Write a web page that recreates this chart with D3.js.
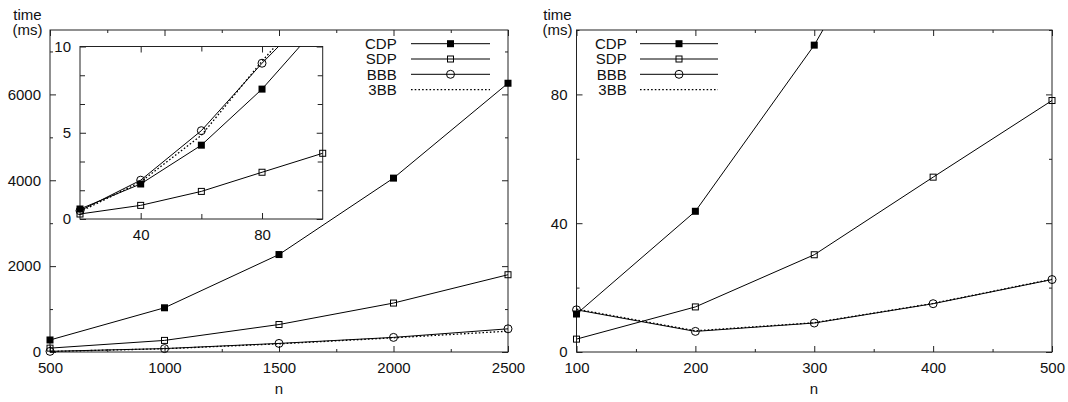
<!DOCTYPE html>
<html>
<head>
<meta charset="utf-8">
<script src="https://cdn.jsdelivr.net/npm/d3@7"></script>
<style>
  body { margin: 0; background: #fff; }
  svg { display: block; }
  .tick line { stroke: #222; }
  text { font-family: "Liberation Sans", Arial, sans-serif; fill: #111; }
</style>
</head>
<body>
<svg id="chart" width="1068" height="402"></svg>
<script>
// series names (legend order)
const seriesNames = ["CDP", "SDP", "BBB", "3BB"];

// left plot: n = 500 .. 2500, time in ms
const leftN = [500, 1000, 1500, 2000, 2500];
const leftCDP = [280, 1030, 2270, 4050, 6260];
const leftSDP = [90, 270, 640, 1140, 1800];
const leftBBB = [15, 80, 200, 340, 540];
const left3BB = [12, 75, 190, 330, 485];

// inset of the left plot: n = 20 .. 100
const insetN = [20, 40, 60, 80, 100];
const insetCDP = [0.58, 2.03, 4.28, 7.53, 11.5];
const insetSDP = [0.29, 0.79, 1.6, 2.71, 3.81];
const insetBBB = [0.48, 2.25, 5.12, 9.03, 12.6];
const inset3BB = [0.42, 2.15, 4.85, 9.15, 13.1];

// right plot: n = 100 .. 500
const rightN = [100, 200, 300, 400, 500];
const rightCDP = [11.8, 43.7, 95.3, 160, 250];
const rightSDP = [4.0, 14.0, 30.2, 54.3, 78.1];
const rightBBB = [13.1, 6.4, 9.0, 15.0, 22.5];
const right3BB = [13.3, 6.6, 9.1, 15.1, 22.6];

// tick values
const leftXTicks = [500, 1000, 1500, 2000, 2500];
const leftXMinor = [750, 1250, 1750, 2250];
const leftYTicks = [0, 2000, 4000, 6000];
const leftYMinor = [1000, 3000, 5000, 7000];
const insetXTicks = [40, 80];
const insetXMinor = [60];
const insetYTicks = [0, 5, 10];
const insetYMinor = [5 / 3, 10 / 3, 20 / 3, 25 / 3];
const rightXTicks = [100, 200, 300, 400, 500];
const rightXMinor = [150, 250, 350, 450];
const rightYTicks = [0, 40, 80];
const rightYMinor = [20, 60, 100];

const svg = d3.select("#chart");
const fontSize = 15;
const dotted = "1.6,2.1";

const markerStyle = {
    CDP: "filledSquare",
    SDP: "openSquare",
    BBB: "circle",
    "3BB": null
};

function drawMarker(g, type, cx, cy) {
    if (type === "filledSquare") {
        g.append("rect").attr("x", cx - 3.5).attr("y", cy - 3.5)
            .attr("width", 7).attr("height", 7).attr("fill", "#000");
    } else if (type === "openSquare") {
        g.append("rect").attr("x", cx - 3).attr("y", cy - 3)
            .attr("width", 6).attr("height", 6)
            .attr("fill", "none").attr("stroke", "#000").attr("stroke-width", 1);
    } else if (type === "circle") {
        g.append("circle").attr("cx", cx).attr("cy", cy).attr("r", 4)
            .attr("fill", "none").attr("stroke", "#000").attr("stroke-width", 1);
    }
}

function styleAxis(g) {
    g.select(".domain").remove();
    g.attr("font-family", null).attr("font-size", null);
    g.selectAll("text").style("font-size", fontSize + "px");
}

// draws a framed panel with ticks on all sides
function drawPanel(opts) {
    const x = opts.x, y = opts.y;
    const [x0, x1] = x.range();
    const [y0, y1] = y.range();
    const g = svg.append("g");
    const fmt = d3.format("d");

    g.append("rect")
        .attr("x", x0).attr("y", y1)
        .attr("width", x1 - x0).attr("height", y0 - y1)
        .attr("fill", "#fff").attr("stroke", "#222").attr("stroke-width", 1);

    const major = opts.major || 6, minor = opts.minor || 3;

    g.append("g").attr("transform", `translate(0,${y0})`)
        .call(d3.axisBottom(x).tickValues(opts.xTicks).tickSize(-major).tickPadding(10).tickFormat(fmt))
        .call(styleAxis);
    g.append("g").attr("transform", `translate(0,${y0})`)
        .call(d3.axisBottom(x).tickValues(opts.xMinor).tickSize(-minor).tickFormat(""))
        .call(styleAxis);
    g.append("g").attr("transform", `translate(0,${y1})`)
        .call(d3.axisTop(x).tickValues(opts.xTicks).tickSize(-major).tickFormat(""))
        .call(styleAxis);
    g.append("g").attr("transform", `translate(0,${y1})`)
        .call(d3.axisTop(x).tickValues(opts.xMinor).tickSize(-minor).tickFormat(""))
        .call(styleAxis);

    g.append("g").attr("transform", `translate(${x0},0)`)
        .call(d3.axisLeft(y).tickValues(opts.yTicks).tickSize(-major).tickPadding(9).tickFormat(fmt))
        .call(styleAxis);
    g.append("g").attr("transform", `translate(${x0},0)`)
        .call(d3.axisLeft(y).tickValues(opts.yMinor).tickSize(-minor).tickFormat(""))
        .call(styleAxis);
    g.append("g").attr("transform", `translate(${x1},0)`)
        .call(d3.axisRight(y).tickValues(opts.yTicks).tickSize(-major).tickFormat(""))
        .call(styleAxis);
    g.append("g").attr("transform", `translate(${x1},0)`)
        .call(d3.axisRight(y).tickValues(opts.yMinor).tickSize(-minor).tickFormat(""))
        .call(styleAxis);

    // series lines, clipped to the frame
    const clipId = "clip-" + opts.id;
    svg.append("clipPath").attr("id", clipId)
        .append("rect").attr("x", x0).attr("y", y1)
        .attr("width", x1 - x0).attr("height", y0 - y1);

    const lineGen = d3.line().x(d => x(d[0])).y(d => y(d[1]));
    const plot = g.append("g").attr("clip-path", `url(#${clipId})`);
    seriesNames.forEach((name, i) => {
        const pts = opts.n.map((n, j) => [n, opts.series[i][j]]);
        plot.append("path")
            .attr("d", lineGen(pts))
            .attr("fill", "none")
            .attr("stroke", "#000")
            .attr("stroke-width", name === "3BB" ? 1.3 : 1)
            .attr("stroke-dasharray", name === "3BB" ? dotted : null);
    });

    // markers are drawn on top, not clipped (points outside range skipped)
    const marks = g.append("g");
    seriesNames.forEach((name, i) => {
        if (!markerStyle[name]) return;
        opts.n.forEach((n, j) => {
            const v = opts.series[i][j];
            if (v > y.domain()[1]) return;
            drawMarker(marks, markerStyle[name], x(n), y(v));
        });
    });
    return g;
}

function drawLegend(textRight, lineStart, lineEnd, top) {
    const g = svg.append("g");
    const mid = (lineStart + lineEnd) / 2;
    seriesNames.forEach((name, i) => {
        const cy = top + i * 15.3;
        g.append("text")
            .attr("x", textRight).attr("y", cy).attr("dy", "0.36em")
            .attr("text-anchor", "end")
            .style("font-size", fontSize + "px")
            .text(name);
        g.append("line")
            .attr("x1", lineStart).attr("x2", lineEnd)
            .attr("y1", cy).attr("y2", cy)
            .attr("stroke", "#000")
            .attr("stroke-width", name === "3BB" ? 1.3 : 1)
            .attr("stroke-dasharray", name === "3BB" ? dotted : null);
        if (markerStyle[name]) drawMarker(g, markerStyle[name], mid, cy);
    });
}

function axisTitles(cx, xTitleX) {
    svg.append("text").attr("x", cx).attr("y", 15).attr("dy", "0.36em")
        .attr("text-anchor", "middle").style("font-size", fontSize + "px").text("time");
    svg.append("text").attr("x", cx).attr("y", 30).attr("dy", "0.36em")
        .attr("text-anchor", "middle").style("font-size", fontSize + "px").text("(ms)");
    svg.append("text").attr("x", xTitleX).attr("y", 389).attr("dy", "0.36em")
        .attr("text-anchor", "middle").style("font-size", fontSize + "px").text("n");
}

// left plot
const xLeft = d3.scaleLinear().domain([500, 2500]).range([50, 508]);
const yLeft = d3.scaleLinear().domain([0, 7500]).range([352, 30]);
drawPanel({
    id: "left", x: xLeft, y: yLeft, n: leftN,
    series: [leftCDP, leftSDP, leftBBB, left3BB],
    xTicks: leftXTicks, xMinor: leftXMinor, yTicks: leftYTicks, yMinor: leftYMinor
});

// inset
const xInset = d3.scaleLinear().domain([20, 100]).range([80, 322.7]);
const yInset = d3.scaleLinear().domain([0, 10]).range([219, 46.5]);
drawPanel({
    id: "inset", x: xInset, y: yInset, n: insetN,
    series: [insetCDP, insetSDP, insetBBB, inset3BB],
    xTicks: insetXTicks, xMinor: insetXMinor, yTicks: insetYTicks, yMinor: insetYMinor,
    major: 6, minor: 5
});

drawLegend(396.7, 411, 490, 43.7);
axisTitles(27.5, 279);

// right plot
const xRight = d3.scaleLinear().domain([100, 500]).range([576.5, 1052]);
const yRight = d3.scaleLinear().domain([0, 100]).range([352, 30]);
drawPanel({
    id: "right", x: xRight, y: yRight, n: rightN,
    series: [rightCDP, rightSDP, rightBBB, right3BB],
    xTicks: rightXTicks, xMinor: rightXMinor, yTicks: rightYTicks, yMinor: rightYMinor
});

drawLegend(626.7, 640, 718, 43.7);
axisTitles(557.5, 814);
</script>
</body>
</html>
